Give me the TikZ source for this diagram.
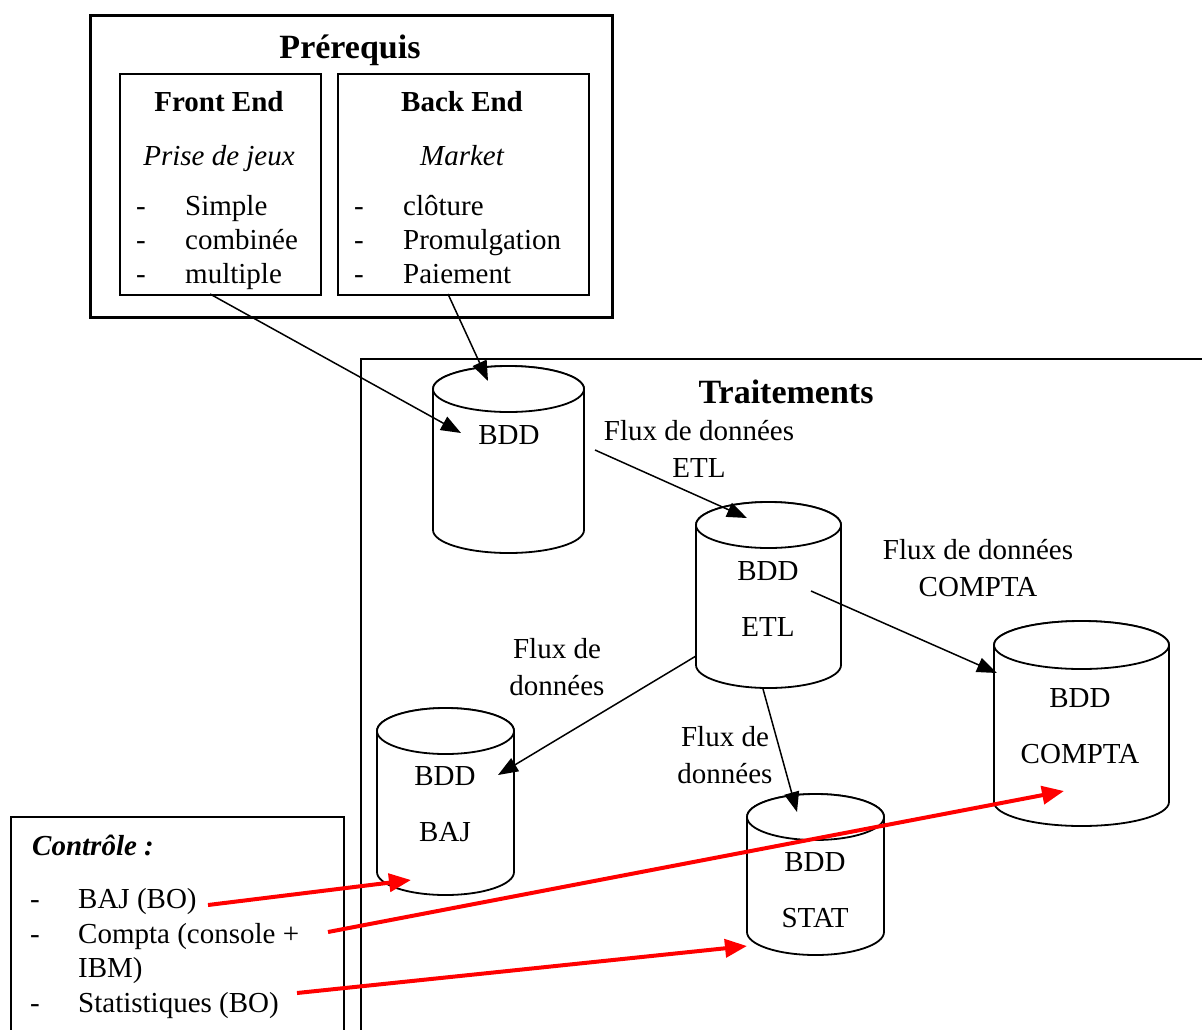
\documentclass[tikz,border=0pt]{standalone}
\usepackage{fontspec}
\setmainfont{Liberation Serif}
\usetikzlibrary{arrows.meta}
\tikzset{
  txt/.style={inner sep=0pt, font=\fontsize{29}{37}\selectfont},
  ttl/.style={inner sep=0pt, font=\fontsize{34}{40}\selectfont\bfseries},
  cyltxt/.style={inner sep=0pt, align=center, font=\fontsize{29}{56}\selectfont},
  flux/.style={inner sep=0pt, align=center, font=\fontsize{29}{37}\selectfont},
  thinbox/.style={draw, line width=2pt, inner sep=0pt, anchor=north west},
  thickbox/.style={draw, line width=2.6pt, inner sep=0pt, anchor=north west},
  cylline/.style={draw=black, fill=white, line width=1.8pt},
  arr/.style={line width=1.5pt, -{Triangle[length=20pt,width=15pt]}},
  redarr/.style={draw=red, line width=4pt, -{Triangle[length=22pt,width=18pt]}}
}
\newcommand\dbcyl[5]{%
  \filldraw[cylline] (#1-#4,#2) -- (#1-#4,#3)
    arc[start angle=180,end angle=0,x radius=#4,y radius=#5]
    -- (#1+#4,#2)
    arc[start angle=0,end angle=-180,x radius=#4,y radius=#5] -- cycle;
  \draw[cylline] (#1,#2) ellipse[x radius=#4,y radius=#5];
}
\begin{document}
\begin{tikzpicture}[x=1pt,y=1pt,yscale=-1]
\useasboundingbox[fill=white] (0,0) rectangle (1202,1029);

% Prerequis
\node[thickbox, minimum width=522, minimum height=302] (prereq) at (89,14) {};
\node[ttl, anchor=base] (prereqt) at (350,58) {Prérequis};
\node[thinbox, minimum width=201, minimum height=221] (front) at (119,73) {};
\node[thinbox, minimum width=251, minimum height=221] (back) at (337,73) {};
\node[txt, anchor=base, font=\fontsize{29}{37}\selectfont\bfseries] (frontt) at (219,111) {Front End};
\node[txt, anchor=base, font=\fontsize{29}{37}\selectfont\itshape] (frontsub) at (219,165) {Prise de jeux};
\node[txt, anchor=base, font=\fontsize{29}{37}\selectfont\bfseries] (backt) at (462,111) {Back End};
\node[txt, anchor=base, font=\fontsize{29}{37}\selectfont\itshape] (backsub) at (462,165) {Market};
\foreach \yy/\tt [count=\i] in {215/Simple,249/combinée,283/multiple}{
  \node[txt, anchor=base] (fd\i) at (141,\yy) {-};
  \node[txt, anchor=base west] (fi\i) at (185,\yy) {\tt};
}
\foreach \yy/\tt [count=\i] in {215/clôture,249/Promulgation,283/Paiement}{
  \node[txt, anchor=base] (bd\i) at (359,\yy) {-};
  \node[txt, anchor=base west] (bi\i) at (403,\yy) {\tt};
}

% Traitements frame
\draw[line width=2.6pt] (361,1032) -- (361,359) -- (1205,359);
\node[ttl, anchor=base] (trait) at (786,403) {Traitements};

% Controle frame
\draw[line width=2pt] (11,1032) -- (11,817) -- (344,817) -- (344,1032);
\node[txt, anchor=base west, font=\fontsize{29}{37}\selectfont\bfseries\itshape] (ctrlt) at (32,855) {Contrôle :};
\foreach \yy/\tt [count=\i] in {908/BAJ (BO),943/Compta (console +,977/IBM),1012/Statistiques (BO)}{
  \node[txt, anchor=base west] (ci\i) at (78,\yy) {\tt};
}
\foreach \yy [count=\i] in {908,943,1012}{
  \node[txt, anchor=base] (cd\i) at (35,\yy) {-};
}

% Cylinders
\dbcyl{508.5}{389}{530}{75.5}{23}
\node[cyltxt] (bdd) at (509,435) {BDD};
\dbcyl{768.5}{525}{665}{72.5}{23}
\node[cyltxt] (etl) at (768,599) {BDD\\ETL};
\dbcyl{1081.5}{645}{802}{87.5}{24}
\node[cyltxt] (compta) at (1080,726) {BDD\\COMPTA};
\dbcyl{445.5}{731}{872}{68.5}{23}
\node[cyltxt] (baj) at (445,804) {BDD\\BAJ};
\dbcyl{815.5}{817}{932}{68.5}{23}
\node[cyltxt] (stat) at (815,890) {BDD\\STAT};

% Flux labels
\node[flux] (f1) at (699,449) {Flux de données\\ETL};
\node[flux] (f2) at (978,568) {Flux de données\\COMPTA};
\node[flux] (f3) at (557,667) {Flux de\\données};
\node[flux] (f4) at (725,755) {Flux de\\données};

% Connector end points
\coordinate (a1s) at (210,294);  \coordinate (a1e) at (461,433);
\coordinate (a2s) at (448,294);  \coordinate (a2e) at (488,381);
\coordinate (a3s) at (595,450);  \coordinate (a3e) at (747,518);
\coordinate (a4s) at (811,591);  \coordinate (a4e) at (997,673);
\coordinate (a5s) at (696,656);  \coordinate (a5e) at (498,775);
\coordinate (a6s) at (763,689);  \coordinate (a6e) at (797,812);
\coordinate (r1s) at (208,905);  \coordinate (r1e) at (411,880);
\coordinate (r2s) at (328,932);  \coordinate (r2e) at (1064,791);
\coordinate (r3s) at (297,993);  \coordinate (r3e) at (747,946);

\draw[arr] (a1s) -- (a1e);
\draw[arr] (a2s) -- (a2e);
\draw[arr] (a3s) -- (a3e);
\draw[arr] (a4s) -- (a4e);
\draw[arr] (a5s) -- (a5e);
\draw[arr] (a6s) -- (a6e);
\draw[redarr] (r1s) -- (r1e);
\draw[redarr] (r2s) -- (r2e);
\draw[redarr] (r3s) -- (r3e);
\end{tikzpicture}
\end{document}
